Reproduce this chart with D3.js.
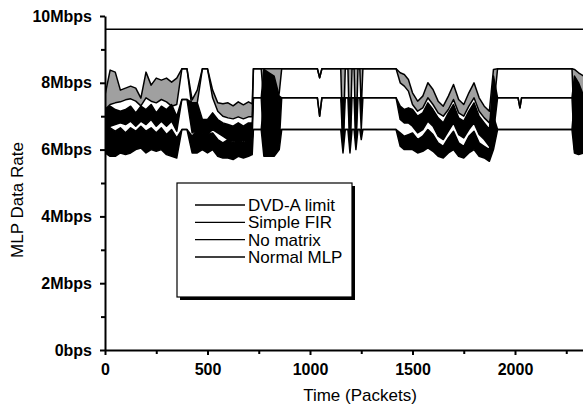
<!DOCTYPE html>
<html>
<head>
<meta charset="utf-8">
<script src="https://cdn.jsdelivr.net/npm/d3@7"></script>
<style>
    html, body { margin: 0; padding: 0; background: #fff; }
    svg { display: block; font-family: "Liberation Sans", Arial, sans-serif; }
</style>
</head>
<body>
<div id="chart-area"></div>
<script>
const packets = [0, 25, 50, 75, 100, 125, 150, 175, 200, 225, 250, 275, 300, 325, 350, 375, 400, 425, 450, 475,
    500, 525, 550, 575, 600, 625, 650, 675, 700, 718, 724, 762, 775, 800, 825, 850, 862, 1036, 1047, 1058,
    1150, 1161, 1172, 1185, 1195, 1205, 1215, 1224, 1234, 1243, 1250, 1258, 1420, 1440, 1460, 1480,
    1500, 1525, 1550, 1575, 1600, 1625, 1650, 1675, 1700, 1725, 1750, 1775, 1800, 1825, 1850, 1875,
    1895, 1915, 2015, 2024, 2032, 2278, 2290, 2310, 2335];

// Simple FIR: upper / lower envelope of the trace (Mbps)
const firHi = [7.63, 8.38, 8.32, 7.78, 7.84, 7.90, 7.84, 7.54, 8.32, 7.93, 8.14, 8.08, 8.14, 8.02, 8.14, 8.42, 8.42, 7.49, 7.78, 8.42,
    8.42, 7.78, 7.40, 7.37, 7.40, 7.31, 7.43, 7.34, 7.43, 7.37, 8.42, 8.42, 8.42, 8.42, 8.42, 8.42, 8.42, 8.42, 8.15, 8.42,
    8.42, 8.42, 8.42, 8.42, 8.42, 8.42, 8.42, 8.42, 8.42, 8.42, 8.42, 8.42, 8.42, 8.30, 8.25, 8.10,
    7.70, 7.45, 7.60, 8.00, 7.80, 7.45, 7.30, 7.60, 7.95, 7.50, 7.35, 7.70, 8.00, 7.55, 7.30, 7.15,
    8.40, 8.42, 8.42, 8.42, 8.42, 8.42, 8.40, 8.30, 8.20];
const firLo = [7.20, 7.35, 7.40, 7.43, 7.49, 7.52, 7.45, 7.31, 7.55, 7.45, 7.40, 7.50, 7.43, 7.30, 7.35, 8.42, 8.42, 7.20, 7.40, 8.42,
    8.42, 7.55, 7.15, 7.00, 6.95, 6.92, 6.98, 6.92, 6.98, 6.98, 8.42, 8.42, 7.40, 7.60, 7.40, 7.70, 8.42, 8.42, 8.15, 8.42,
    8.42, 6.00, 8.42, 8.42, 6.00, 8.42, 8.42, 6.20, 8.42, 8.42, 7.20, 8.42, 8.42, 8.00, 7.90, 7.75,
    7.35, 7.15, 7.25, 7.55, 7.35, 7.10, 7.00, 7.20, 7.50, 7.10, 7.00, 7.30, 7.55, 7.15, 6.95, 6.80,
    7.20, 8.42, 8.42, 8.42, 8.42, 8.42, 6.50, 6.80, 7.00];

// No matrix
const noMatrixHi = [7.20, 7.30, 7.20, 7.15, 7.20, 7.30, 7.10, 7.30, 7.20, 7.35, 7.10, 7.30, 7.20, 7.35, 7.00, 7.50, 7.50, 7.40, 7.40, 6.90,
    6.90, 7.10, 6.90, 6.80, 6.75, 6.70, 6.80, 6.70, 6.80, 6.80, 7.55, 7.55, 8.40, 8.30, 8.20, 7.60, 7.55, 7.55, 7.00, 7.55,
    7.55, 7.55, 7.55, 7.55, 7.55, 7.55, 7.55, 7.55, 7.55, 7.55, 7.55, 7.55, 7.55, 7.30, 7.20, 7.25,
    7.20, 7.00, 7.10, 7.40, 7.20, 6.95, 6.80, 7.10, 7.35, 6.95, 6.85, 7.15, 7.40, 7.00, 6.80, 6.60,
    8.20, 7.55, 7.55, 7.25, 7.55, 7.55, 8.20, 8.00, 7.60];
const noMatrixLo = [6.30, 6.70, 6.75, 6.80, 6.75, 6.85, 6.70, 6.85, 6.75, 6.90, 6.70, 6.85, 6.70, 6.85, 6.55, 7.50, 7.50, 6.50, 6.60, 6.50,
    6.45, 6.60, 6.50, 6.40, 6.30, 6.25, 6.30, 6.25, 6.30, 6.35, 7.55, 7.55, 6.00, 6.00, 5.90, 6.20, 7.55, 7.55, 7.00, 7.55,
    7.55, 6.00, 7.55, 7.55, 6.00, 7.55, 7.55, 6.10, 7.55, 7.55, 6.60, 7.55, 7.55, 6.90, 6.80, 6.80,
    6.70, 6.50, 6.60, 6.85, 6.70, 6.40, 6.30, 6.55, 6.80, 6.45, 6.35, 6.60, 6.80, 6.45, 6.30, 6.10,
    6.50, 7.55, 7.55, 7.25, 7.55, 7.55, 6.00, 5.90, 6.00];

// Normal MLP
const normalHi = [6.80, 6.65, 6.55, 6.65, 6.50, 6.65, 6.55, 6.70, 6.55, 6.65, 6.50, 6.65, 6.45, 6.60, 6.35, 6.60, 6.60, 6.40, 6.60, 6.50,
    6.45, 6.50, 6.30, 6.20, 6.30, 6.20, 6.30, 6.20, 6.30, 6.30, 6.60, 6.60, 7.50, 7.60, 7.00, 6.60, 6.60, 6.60, 6.60, 6.60,
    6.60, 6.60, 6.60, 6.60, 6.60, 6.60, 6.60, 6.60, 6.60, 6.60, 6.60, 6.60, 6.60, 6.50, 6.40, 6.45,
    6.50, 6.30, 6.40, 6.60, 6.45, 6.20, 6.10, 6.35, 6.55, 6.20, 6.10, 6.40, 6.55, 6.20, 6.10, 6.00,
    7.00, 6.60, 6.60, 6.60, 6.60, 6.60, 7.50, 7.00, 6.80];
const normalLo = [5.90, 5.80, 5.80, 5.90, 5.85, 5.90, 6.00, 6.05, 5.90, 6.00, 5.95, 6.00, 5.85, 5.80, 5.75, 6.60, 6.60, 5.90, 5.90, 6.00,
    5.90, 6.00, 5.80, 5.75, 5.75, 5.70, 5.80, 5.75, 5.80, 5.85, 6.60, 6.60, 5.80, 5.80, 5.80, 6.00, 6.60, 6.60, 6.60, 6.60,
    6.60, 5.90, 6.60, 6.60, 5.90, 6.60, 6.60, 6.00, 6.60, 6.60, 6.30, 6.60, 6.60, 6.10, 6.00, 6.00,
    6.00, 5.90, 5.95, 6.05, 5.95, 5.80, 5.75, 5.90, 6.00, 5.80, 5.75, 5.90, 6.00, 5.80, 5.75, 5.65,
    6.00, 6.60, 6.60, 6.60, 6.60, 6.60, 5.90, 5.85, 5.90];

// DVD-A limit (constant)
const dvdLimit = 9.6;

// Axis ticks and labels
const xTicks = [0, 500, 1000, 1500, 2000];
const xMinorTicks = [250, 750, 1250, 1750, 2250];
const yTicks = [0, 2, 4, 6, 8, 10];
const yTickLabels = ['0bps', '2Mbps', '4Mbps', '6Mbps', '8Mbps', '10Mbps'];
const yMinorTicks = [1, 3, 5, 7, 9];
const legendLabels = ['DVD-A limit', 'Simple FIR', 'No matrix', 'Normal MLP'];

;(function () {
    'use strict';

    const WIDTH = 583;
    const HEIGHT = 406;
    const MARGIN = {LEFT: 105, TOP: 16, BOTTOM: 56};
    const yBase = HEIGHT - MARGIN.BOTTOM;   // 350

    const svg = d3.select('#chart-area').append('svg')
        .attr('width', WIDTH)
        .attr('height', HEIGHT);

    // The plot runs to 2500 packets, the picture cuts it at the right edge
    const xScale = d3.scaleLinear()
        .domain([0, 2500])
        .range([MARGIN.LEFT, MARGIN.LEFT + 512.5]);

    const yScale = d3.scaleLinear()
        .domain([0, 10])
        .range([yBase, MARGIN.TOP]);

    svg.append('clipPath').attr('id', 'plot-clip')
        .append('rect')
        .attr('x', MARGIN.LEFT)
        .attr('y', 0)
        .attr('width', WIDTH - MARGIN.LEFT)
        .attr('height', yBase);

    const plot = svg.append('g').attr('clip-path', 'url(#plot-clip)');

    // Band helpers: area between lower and upper envelope + edge strokes
    function drawSeries(hi, lo, fill) {
        const rows = packets.map((p, i) => ({p: p, hi: hi[i], lo: lo[i]}));

        plot.append('path')
            .datum(rows)
            .attr('fill', fill)
            .attr('stroke', 'none')
            .attr('d', d3.area()
                .x(d => xScale(d.p))
                .y0(d => yScale(d.lo))
                .y1(d => yScale(d.hi)));

        [hi, lo].forEach(vals => {
            plot.append('path')
                .datum(rows.map((r, i) => ({p: r.p, v: vals[i]})))
                .attr('fill', 'none')
                .attr('stroke', '#000')
                .attr('stroke-width', 1.5)
                .attr('stroke-linejoin', 'round')
                .attr('d', d3.line()
                    .x(d => xScale(d.p))
                    .y(d => yScale(d.v)));
        });
    }

    drawSeries(firHi, firLo, '#a0a0a0');
    drawSeries(noMatrixHi, noMatrixLo, '#000');
    drawSeries(normalHi, normalLo, '#000');

    // DVD-A limit line
    plot.append('line')
        .attr('x1', xScale(0))
        .attr('x2', xScale(2500))
        .attr('y1', yScale(dvdLimit))
        .attr('y2', yScale(dvdLimit))
        .attr('stroke', '#000')
        .attr('stroke-width', 1.5);

    // X Axis
    const xAxis = svg.append('g')
        .attr('transform', `translate(0,${yBase})`)
        .call(d3.axisBottom(xScale).tickValues(xTicks).tickSize(5).tickPadding(9).tickSizeOuter(0)
            .tickFormat(d3.format('d')));
    svg.append('g')
        .attr('transform', `translate(0,${yBase})`)
        .call(d3.axisBottom(xScale).tickValues(xMinorTicks).tickSize(4).tickFormat('').tickSizeOuter(0))
        .call(g => g.select('.domain').remove());

    // Y Axis
    const yAxis = svg.append('g')
        .attr('transform', `translate(${MARGIN.LEFT},0)`)
        .call(d3.axisLeft(yScale).tickValues(yTicks).tickSize(5).tickPadding(8).tickSizeOuter(0)
            .tickFormat((d, i) => yTickLabels[i]));
    svg.append('g')
        .attr('transform', `translate(${MARGIN.LEFT},0)`)
        .call(d3.axisLeft(yScale).tickValues(yMinorTicks).tickSize(4).tickFormat('').tickSizeOuter(0))
        .call(g => g.select('.domain').remove());

    svg.selectAll('.domain').attr('stroke-width', 2);
    svg.selectAll('.tick line').attr('stroke-width', 2);
    [xAxis, yAxis].forEach(a => a.selectAll('text')
        .attr('font-family', '"Liberation Sans", Arial, sans-serif')
        .attr('font-size', '16px')
        .attr('font-weight', 'bold')
        .attr('fill', '#000'));

    // Axis labels
    svg.append('text')
        .attr('x', 360)
        .attr('y', 401)
        .attr('font-size', '17px')
        .attr('text-anchor', 'middle')
        .text('Time (Packets)');

    svg.append('text')
        .attr('transform', 'translate(23,200) rotate(-90)')
        .attr('font-size', '17px')
        .attr('text-anchor', 'middle')
        .text('MLP Data Rate');

    // Legend box with drop shadow
    const legend = svg.append('g');
    legend.append('rect')
        .attr('x', 180).attr('y', 186)
        .attr('width', 175).attr('height', 114)
        .attr('fill', '#000');
    legend.append('rect')
        .attr('x', 177).attr('y', 183)
        .attr('width', 175).attr('height', 114)
        .attr('fill', '#fff')
        .attr('stroke', '#000')
        .attr('stroke-width', 1.2);

    const legendY = d3.scalePoint()
        .domain(legendLabels)
        .range([205, 257]);

    legendLabels.forEach(name => {
        legend.append('line')
            .attr('x1', 195).attr('x2', 245)
            .attr('y1', legendY(name)).attr('y2', legendY(name))
            .attr('stroke', '#000')
            .attr('stroke-width', 1.3);
        legend.append('text')
            .attr('x', 248)
            .attr('y', legendY(name))
            .attr('dy', '0.35em')
            .attr('font-size', '17px')
            .text(name);
    });
})();
</script>
</body>
</html>
